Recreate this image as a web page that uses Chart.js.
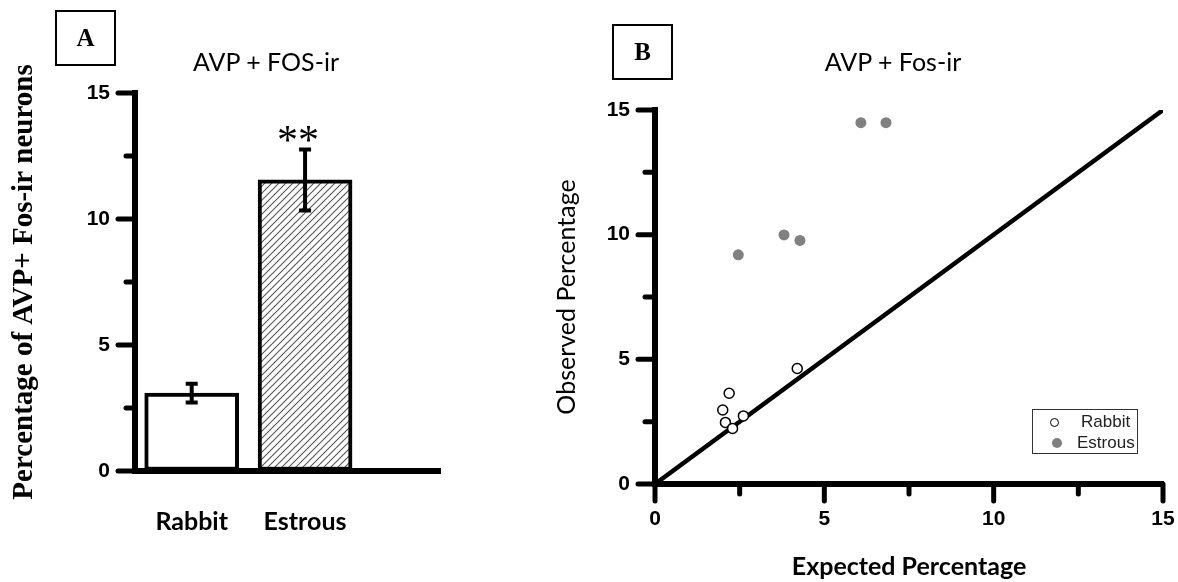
<!DOCTYPE html>
<html>
<head>
<meta charset="utf-8">
<title>AVP + Fos-ir</title>
<script src="https://cdn.jsdelivr.net/npm/chart.js@4.4.1/dist/chart.umd.min.js"></script>
<style>
  html, body { margin: 0; padding: 0; background: #fff; }
  body { position: relative; width: 1178px; height: 582px; overflow: hidden; }
  canvas { position: absolute; top: 0; }
  #chartA { left: 0; }
  #chartB { left: 530px; }
  .tag {
    position: absolute; box-sizing: border-box; width: 61px; height: 56px;
    border: 2px solid #000; text-align: center;
    font: bold 25px "Liberation Serif", "Times New Roman", serif;
    line-height: 52px;
  }
  .head {
    position: absolute; top: 46px; white-space: nowrap;
    font: 25px Lato, "Open Sans", sans-serif; transform: translateX(-50%);
    line-height: 30px;
  }
  .legend {
    position: absolute; left: 1032px; top: 409px; width: 106px; height: 45px;
    box-sizing: border-box; border: 1px solid #333;
    font: 17px "Liberation Sans", Arial, sans-serif; color: #222;
  }
  .legend span { position: absolute; line-height: 20px; white-space: nowrap; }
  .mk { border-radius: 50%; box-sizing: border-box; }
</style>
</head>
<body>
<canvas id="chartA" width="460" height="582"></canvas>
<canvas id="chartB" width="648" height="582"></canvas>

<div class="tag" style="left:55px; top:10px;">A</div>
<div class="tag" style="left:612px; top:24px;">B</div>
<div class="head" style="left:266px;">AVP + FOS-ir</div>
<div class="head" style="left:893px;">AVP + Fos-ir</div>

<div class="legend">
  <span class="mk" style="left:17px; top:8px; width:9px; height:9px; border:1.3px solid #000;"></span>
  <span style="left:48px; top:2px;">Rabbit</span>
  <span class="mk" style="left:19px; top:28px; width:10px; height:10px; background:#808080;"></span>
  <span style="left:44px; top:23px;">Estrous</span>
</div>

<script>
// panel A: mean percentage of AVP+ Fos-ir neurons
const groups = ['Rabbit', 'Estrous'];
const means = [3.09, 11.55];
const sems = [0.37, 1.21];
const signif = ['', '**'];

// panel B: expected vs observed percentage per animal
const rabbitX = [2.19, 2.00, 2.08, 2.29, 2.61, 4.20];
const rabbitY = [3.64, 2.97, 2.47, 2.23, 2.73, 4.63];
const estrousX = [6.08, 6.82, 2.46, 3.81, 4.28];
const estrousY = [14.49, 14.49, 9.19, 9.99, 9.77];
const identity = [0, 15];

const yTicks = [0, 5, 10, 15];

// outward tick marks, long on multiples of 5, short in between
const axisTicks = {
  id: 'axisTicks',
  afterDraw(chart, args, opts) {
    const ctx = chart.ctx;
    ctx.save();
    ctx.strokeStyle = '#000';
    ctx.lineWidth = opts.width;
    ctx.lineCap = 'round';
    opts.axes.forEach((id) => {
      const s = chart.scales[id];
      for (let v = s.min; v <= s.max + 1e-9; v += opts.step) {
        const len = Math.abs(v % opts.majorStep) < 1e-9 ? opts.major : opts.minor;
        const p = s.getPixelForValue(v);
        ctx.beginPath();
        if (s.isHorizontal()) {
          ctx.moveTo(p, s.top);
          ctx.lineTo(p, s.top + len);
        } else {
          ctx.moveTo(s.right, p);
          ctx.lineTo(s.right - len, p);
        }
        ctx.stroke();
      }
    });
    ctx.restore();
  }
};

const errorBars = {
  id: 'errorBars',
  afterDatasetsDraw(chart) {
    const ctx = chart.ctx;
    const y = chart.scales.y;
    const meta = chart.getDatasetMeta(0);
    ctx.save();
    ctx.strokeStyle = '#000';
    ctx.lineWidth = 4;
    meta.data.forEach((bar, i) => {
      const hi = y.getPixelForValue(means[i] + sems[i]);
      const lo = y.getPixelForValue(means[i] - sems[i]);
      ctx.beginPath();
      ctx.moveTo(bar.x, lo);
      ctx.lineTo(bar.x, hi);
      ctx.moveTo(bar.x - 6, hi);
      ctx.lineTo(bar.x + 6, hi);
      ctx.moveTo(bar.x - 6, lo);
      ctx.lineTo(bar.x + 6, lo);
      ctx.stroke();
      if (signif[i]) {
        ctx.fillStyle = '#000';
        ctx.font = '42px "Liberation Serif", serif';
        ctx.textAlign = 'center';
        ctx.textBaseline = 'alphabetic';
        ctx.fillText(signif[i], bar.x - 7, hi + 5);
      }
    });
    ctx.restore();
  }
};

function hatch() {
  const c = document.createElement('canvas');
  c.width = 7;
  c.height = 7;
  const g = c.getContext('2d');
  g.fillStyle = '#fff';
  g.fillRect(0, 0, 7, 7);
  g.strokeStyle = '#555';
  g.lineWidth = 1.1;
  g.beginPath();
  g.moveTo(-1, 8); g.lineTo(8, -1);
  g.moveTo(-1, 1); g.lineTo(1, -1);
  g.moveTo(6, 8); g.lineTo(8, 6);
  g.stroke();
  return g.createPattern(c, 'repeat');
}

// fixed box sizes so both plot areas sit where the figure has them
const fixHeight = (h) => (s) => { s.height = h; s.paddingLeft = 0; s.paddingRight = 0; };
const fixWidth = (w) => (s) => { s.width = w; s.paddingTop = 0; s.paddingBottom = 0; };

Chart.defaults.color = '#000';
Chart.defaults.animation = false;

new Chart(document.getElementById('chartA'), {
  type: 'bar',
  data: {
    datasets: [{
      data: means.map((m, i) => ({ x: i + 0.5, y: m })),
      backgroundColor: ['#fff', hatch()],
      borderColor: '#000',
      borderWidth: 4,
      borderSkipped: false,
      barThickness: 94
    }]
  },
  options: {
    responsive: false,
    events: [],
    layout: { padding: { left: 0, top: 93, right: 20, bottom: 0 } },
    plugins: {
      legend: { display: false },
      tooltip: { enabled: false },
      axisTicks: { axes: ['y'], step: 2.5, majorStep: 5, major: 17, minor: 9, width: 5 }
    },
    scales: {
      x: {
        type: 'linear',
        offset: false,
        min: 0,
        max: 2.69,
        afterFit: fixHeight(111),
        afterBuildTicks: (s) => { s.ticks = groups.map((g, i) => ({ value: i + 0.5 })); },
        grid: { display: true, drawOnChartArea: false, drawTicks: false },
        border: { color: '#000', width: 6 },
        ticks: {
          padding: 36,
          font: { family: 'Lato', size: 25, weight: 'bold' },
          callback: (v) => groups[Math.round(v - 0.5)]
        }
      },
      y: {
        min: 0,
        max: 15,
        afterFit: fixWidth(135),
        afterBuildTicks: (s) => { s.ticks = yTicks.map((v) => ({ value: v })); },
        grid: { display: true, drawOnChartArea: false, drawTicks: false },
        border: { color: '#000', width: 6 },
        ticks: { padding: 25, font: { family: 'Liberation Sans', size: 21, weight: 'bold' } },
        title: {
          display: true,
          text: 'Percentage of AVP+ Fos-ir neurons',
          padding: { top: 7 },
          font: { family: 'Liberation Serif', size: 29, weight: 'bold' }
        }
      }
    }
  },
  plugins: [axisTicks, errorBars]
});

new Chart(document.getElementById('chartB'), {
  type: 'scatter',
  data: {
    datasets: [
      {
        label: 'Rabbit',
        data: rabbitX.map((x, i) => ({ x, y: rabbitY[i] })),
        pointRadius: 5,
        borderWidth: 1.5,
        borderColor: '#000',
        backgroundColor: '#fff'
      },
      {
        label: 'Estrous',
        data: estrousX.map((x, i) => ({ x, y: estrousY[i] })),
        pointRadius: 5.5,
        borderWidth: 0,
        borderColor: '#808080',
        backgroundColor: '#808080'
      },
      {
        type: 'line',
        label: 'identity',
        data: identity.map((v) => ({ x: v, y: v })),
        borderColor: '#000',
        borderWidth: 4.5,
        pointRadius: 0,
        fill: false
      }
    ]
  },
  options: {
    responsive: false,
    events: [],
    layout: { padding: { left: 0, top: 110, right: 15, bottom: 0 } },
    plugins: {
      legend: { display: false },
      tooltip: { enabled: false },
      axisTicks: { axes: ['x', 'y'], step: 2.5, majorStep: 5, major: 17, minor: 10, width: 5 }
    },
    scales: {
      x: {
        type: 'linear',
        min: 0,
        max: 15,
        afterFit: fixHeight(98),
        afterBuildTicks: (s) => { s.ticks = yTicks.map((v) => ({ value: v })); },
        grid: { display: true, drawOnChartArea: false, drawTicks: false },
        border: { color: '#000', width: 6 },
        ticks: { padding: 23, font: { family: 'Liberation Sans', size: 21, weight: 'bold' } },
        title: {
          display: true,
          text: 'Expected Percentage',
          padding: { bottom: 0 },
          font: { family: 'Lato', size: 25, weight: 'bold' }
        }
      },
      y: {
        min: 0,
        max: 15,
        afterFit: fixWidth(125),
        afterBuildTicks: (s) => { s.ticks = yTicks.map((v) => ({ value: v })); },
        grid: { display: true, drawOnChartArea: false, drawTicks: false },
        border: { color: '#000', width: 6 },
        ticks: { padding: 25, font: { family: 'Liberation Sans', size: 21, weight: 'bold' } },
        title: {
          display: true,
          text: 'Observed Percentage',
          padding: { top: 22 },
          font: { family: 'Lato', size: 25 }
        }
      }
    }
  },
  plugins: [axisTicks]
});
</script>
</body>
</html>
